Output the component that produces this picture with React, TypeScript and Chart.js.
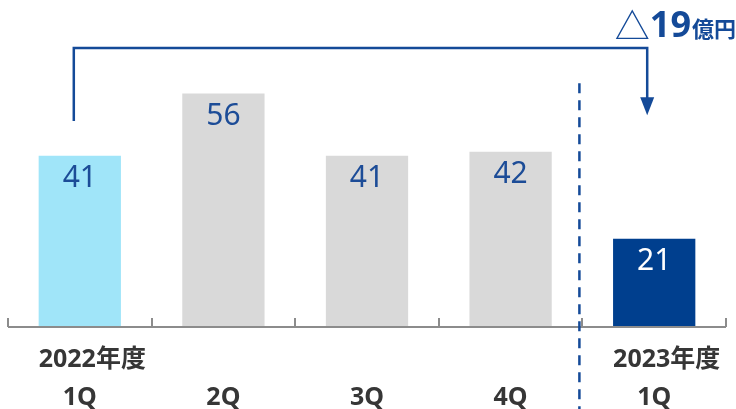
import React, { useEffect, useRef } from "react";
import { Chart, registerables } from "chart.js";

Chart.register(...registerables);

// Quarterly figures (億円)
const categories: string[][] = [
  ["\u30002022年度", "1Q"],
  ["", "2Q"],
  ["", "3Q"],
  ["", "4Q"],
  ["\u30002023年度", "1Q"],
];
const values: number[] = [41, 56, 41, 42, 21];
const barColors: string[] = ["#a0e5f9", "#d9d9d9", "#d9d9d9", "#d9d9d9", "#003f8e"];
const valueLabelColors: string[] = ["#1c4c97", "#1c4c97", "#1c4c97", "#1c4c97", "#ffffff"];

// Year-on-year change callout
const changeSymbol = "△";
const changeAmount = "19";
const changeUnit = "億円";

const NAVY = "#144a98";
const Y_MAX = 60;
// callout levels, in value units of the y scale
const BRACKET_TOP = 67;
const BRACKET_LEFT_END = 49.4;
const ARROW_TIP = 50.8;
const ARROW_BASE = 55.1;
const DIVIDER_TOP = 58.5;

const overlayPlugin = {
  id: "overlay",
  afterDatasetsDraw(chart: any) {
    const { ctx, chartArea: area } = chart;
    const xs = chart.scales.x;
    const ys = chart.scales.y;
    const meta = chart.getDatasetMeta(0);
    const n = categories.length;
    const step = (area.right - area.left) / n;

    ctx.save();

    // value labels inside bars
    ctx.font = '30px "Noto Sans", "Open Sans", sans-serif';
    ctx.textAlign = "center";
    ctx.textBaseline = "middle";
    meta.data.forEach((bar: any, i: number) => {
      ctx.fillStyle = valueLabelColors[i];
      ctx.fillText(String(values[i]), bar.x, bar.y + 23);
    });

    // baseline with upward category ticks
    ctx.strokeStyle = "#8c8c8c";
    ctx.lineWidth = 2;
    ctx.beginPath();
    ctx.moveTo(area.left, area.bottom + 1);
    ctx.lineTo(area.right, area.bottom + 1);
    for (let i = 0; i <= n; i++) {
      const px = Math.round(area.left + i * step);
      ctx.moveTo(px, area.bottom + 1);
      ctx.lineTo(px, area.bottom - 8);
    }
    ctx.stroke();

    // fiscal-year divider
    const divX = area.left + (n - 1) * step - 3;
    ctx.strokeStyle = NAVY;
    ctx.lineWidth = 2.5;
    ctx.setLineDash([10, 7]);
    ctx.beginPath();
    ctx.moveTo(divX, ys.getPixelForValue(DIVIDER_TOP));
    ctx.lineTo(divX, chart.height);
    ctx.stroke();
    ctx.setLineDash([]);

    // bracket from first to last quarter
    const xL = xs.getPixelForValue(0) - 6;
    const xR = xs.getPixelForValue(n - 1) - 7;
    const yTop = ys.getPixelForValue(BRACKET_TOP);
    const yBase = ys.getPixelForValue(ARROW_BASE);
    ctx.lineWidth = 2.5;
    ctx.beginPath();
    ctx.moveTo(xL, ys.getPixelForValue(BRACKET_LEFT_END));
    ctx.lineTo(xL, yTop);
    ctx.lineTo(xR, yTop);
    ctx.lineTo(xR, yBase + 2);
    ctx.stroke();
    ctx.fillStyle = NAVY;
    ctx.beginPath();
    ctx.moveTo(xR - 7, yBase);
    ctx.lineTo(xR + 7, yBase);
    ctx.lineTo(xR, ys.getPixelForValue(ARROW_TIP));
    ctx.closePath();
    ctx.fill();

    // change label
    const baseY = 37;
    let right = chart.width;
    ctx.textAlign = "right";
    ctx.textBaseline = "alphabetic";
    ctx.font = 'bold 22px "Noto Sans CJK JP", sans-serif';
    ctx.fillText(changeUnit, right, baseY);
    right -= ctx.measureText(changeUnit).width + 1;
    ctx.font = 'bold 36px "Noto Sans", "Noto Sans CJK JP", sans-serif';
    ctx.fillText(changeAmount, right, baseY);
    right -= ctx.measureText(changeAmount).width;
    ctx.font = '35px "Noto Sans CJK JP", sans-serif';
    ctx.fillText(changeSymbol, right, baseY + 2);

    ctx.restore();
  },
};

export default function App() {
  const canvasRef = useRef<HTMLCanvasElement | null>(null);

  useEffect(() => {
    document.body.style.margin = "0";
    const canvas = canvasRef.current;
    if (!canvas) return;
    const chart = new Chart(canvas, {
      type: "bar",
      data: {
        labels: categories,
        datasets: [
          {
            data: values,
            backgroundColor: barColors,
            borderWidth: 0,
            categoryPercentage: 1,
            barPercentage: 0.573,
          },
        ],
      },
      options: {
        responsive: false,
        animation: false,
        devicePixelRatio: 1,
        layout: { padding: { top: 77, left: 8, right: 10, bottom: 0 } },
        plugins: {
          legend: { display: false },
          tooltip: { enabled: false },
        },
        scales: {
          x: {
            offset: true,
            grid: { display: false },
            border: { display: false },
            ticks: {
              color: "#363636",
              padding: 7,
              maxRotation: 0,
              autoSkip: false,
              font: {
                family: '"Noto Sans", "Noto Sans CJK JP", sans-serif',
                size: 25,
                weight: "bold",
                lineHeight: "38px",
              },
            },
            afterFit(scale: any) {
              scale.height = 83;
            },
          },
          y: {
            display: false,
            min: 0,
            max: Y_MAX,
          },
        },
      },
      plugins: [overlayPlugin],
    });
    return () => chart.destroy();
  }, []);

  return (
    <div style={{ position: "absolute", left: 0, top: 0, width: 736, height: 409 }}>
      <canvas ref={canvasRef} width={736} height={409} />
    </div>
  );
}
